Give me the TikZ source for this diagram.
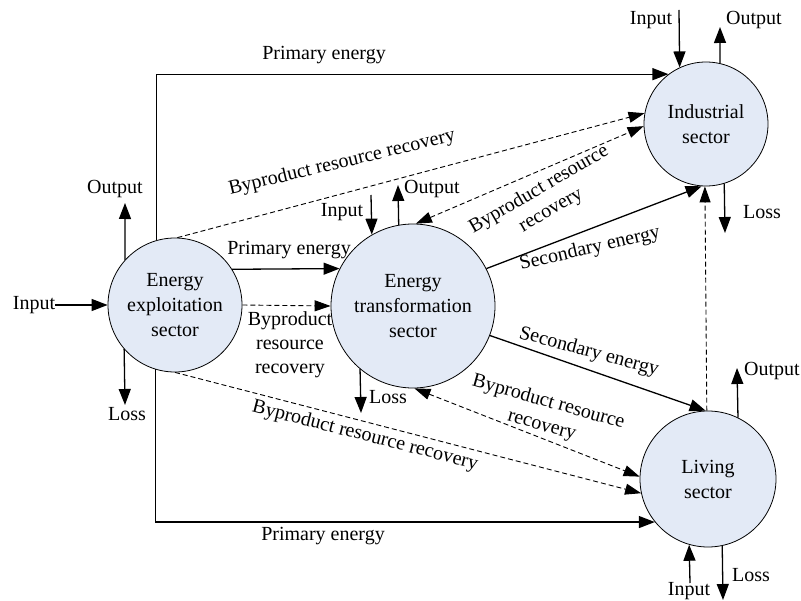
\documentclass[tikz,border=0pt]{standalone}
\usepackage{fontspec}
\setmainfont{Liberation Serif}
\usetikzlibrary{arrows.meta}
\definecolor{secfill}{RGB}{227,234,246}
\begin{document}
\begin{tikzpicture}[x=1bp,y=-1bp,
  every node/.style={font=\fontsize{20bp}{24bp}\selectfont},
  sec/.style={circle,draw,fill=secfill,line width=0.8bp,minimum size=#1,inner sep=0pt,align=center,font=\fontsize{20bp}{25bp}\selectfont},
  lbl/.style={inner sep=0pt,align=center},
  flow/.style={line width=1.3bp,-{Triangle[length=16bp,width=12bp]}},
  byp/.style={line width=0.9bp,dash pattern=on 5bp off 3bp,-{Triangle[length=16bp,width=11bp]}},
  bypb/.style={byp,{Triangle[length=16bp,width=11bp]}-{Triangle[length=16bp,width=11bp]}},
]
\useasboundingbox (0,0) rectangle (801,601);

% sectors
\node[sec=134bp] (ex)  at (175,305) {Energy\\exploitation\\sector};
\node[sec=164bp] (tr)  at (413,306) {Energy\\transformation\\sector};
\node[sec=124bp] (ind) at (706,124) {Industrial\\sector};
\node[sec=136bp] (liv) at (708,479) {Living\\sector};

% input / output / loss labels
\node[lbl] (exIn)    at (34,305)  {Input};
\node[lbl] (exOut)   at (115,189) {Output};
\node[lbl] (exLoss)  at (127,414) {Loss};
\node[lbl] (trIn)    at (342,212) {Input};
\node[lbl] (trOut)   at (432,189) {Output};
\node[lbl] (trLoss)  at (388,397) {Loss};
\node[lbl] (indIn)   at (651,20)  {Input};
\node[lbl] (indOut)  at (754,20)  {Output};
\node[lbl] (indLoss) at (762,212) {Loss};
\node[lbl] (livOut)  at (772,371) {Output};
\node[lbl] (livIn)   at (689,591) {Input};
\node[lbl] (livLoss) at (751,575) {Loss};

% free ends
\coordinate (exOutEnd)   at (125,203);
\coordinate (exLossEnd)  at (125,405);
\coordinate (trInStart)  at (371,195);
\coordinate (trOutEnd)   at (398,185);
\coordinate (trLossEnd)  at (361,413);
\coordinate (indInStart) at (679,10);
\coordinate (indOutEnd)  at (720,27);
\coordinate (indLossEnd) at (725,233);
\coordinate (livOutEnd)  at (737,368);
\coordinate (livInStart) at (690,583);
\coordinate (livLossEnd) at (723,600);

\draw[flow] (exIn.east) -- (ex.west);
\draw[flow] (ex.138.3) -- (exOutEnd);
\draw[flow] (ex.221.7) -- (exLossEnd);
\draw[flow] (trInStart) -- (tr.120.8);
\draw[flow] (tr.100.5) -- (trOutEnd);
\draw[flow] (tr.230.6) -- (trLossEnd);
\draw[flow] (indInStart) -- (ind.115.8);
\draw[flow] (ind.77) -- (indOutEnd);
\draw[flow] (ind.287.8) -- (indLossEnd);
\draw[flow] (liv.64.8) -- (livOutEnd);
\draw[flow] (livInStart) -- (liv.254.7);
\draw[flow] (liv.282.7) -- (livLossEnd);

% primary energy
\draw[flow] (ex.106.5) |- (ind.127.8);
\draw[flow] (ex.253.5) |- (liv.219.2);
\draw[flow] (ex.32.5) -- (tr.153.2);
\node[lbl] (pTop) at (324,55)  {Primary energy};
\node[lbl] (pBot) at (323,536) {Primary energy};
\node[lbl] (pMid) at (289,250) {Primary energy};

% secondary energy
\draw[flow] (tr.27.2) -- (ind.266);
\draw[flow] (tr.339.4) -- (liv.92);
\node[lbl,rotate=13]  (sUp) at (590,249) {Secondary energy};
\node[lbl,rotate=-15] (sDn) at (589,352) {Secondary energy};

% byproduct resource recovery
\draw[byp]  (ex.0) -- (tr.180);
\draw[byp]  (ex.88) -- (ind.170);
\draw[byp]  (ex.270) -- (liv.192);
\draw[bypb] (tr.88.6) -- (ind.182.7);
\draw[bypb] (tr.271) -- (liv.178);
\draw[byp]  (liv.91) -- (ind.269);
\node[lbl] (bMid) at (290,345) {Byproduct\\resource\\recovery};
\node[lbl,rotate=13.5]  (bA) at (342,163) {Byproduct resource recovery};
\node[lbl,rotate=30]    (bB) at (545,200) {Byproduct resource\\recovery};
\node[lbl,rotate=-15.7] (bE) at (545,414) {Byproduct resource\\recovery};
\node[lbl,rotate=-14.4] (bF) at (365,436) {Byproduct resource recovery};
\end{tikzpicture}
\end{document}
